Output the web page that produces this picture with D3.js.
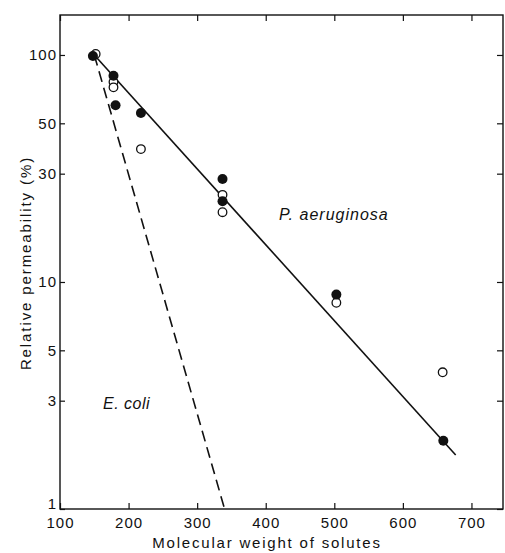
<!DOCTYPE html>
<html>
<head>
<meta charset="utf-8">
<script src="https://cdn.jsdelivr.net/npm/d3@7"></script>
<style>
  body { margin: 0; background: #fff; }
  text { font-family: "Liberation Sans", Arial, sans-serif; fill: #111; }
</style>
</head>
<body>
<svg id="chart" width="505" height="553"></svg>
<script>
// Relative permeability vs molecular weight of solutes
const xTicks = [100, 200, 300, 400, 500, 600, 700];
const yTicks = [1, 3, 5, 10, 30, 50, 100];

// P. aeruginosa, filled circles (molecular weight, % permeability)
const filledMW = [148, 178, 181, 218, 337, 337, 503, 659];
const filledPerm = [99, 81, 60, 55.5, 28.4, 22.7, 8.8, 2.0];

// open circles
const openMW = [152, 178, 178, 218, 337, 337, 503, 658];
const openPerm = [101, 76, 72, 38.5, 24.2, 20.3, 8.1, 4.0];

// fitted lines
const aeruginosaFit = [[150, 100], [677, 1.73]];
const coliFit = [[150, 100], [340, 1]];

const svg = d3.select("#chart");
const plotLeft = 60, plotTop = 15, plotRight = 503, plotBottom = 509;

const x = d3.scaleLinear().domain([100, 746]).range([plotLeft, plotRight]);
const y = d3.scaleLog().domain([1, 150]).range([plotBottom, plotTop]);

// frame
svg.append("rect")
  .attr("x", plotLeft)
  .attr("y", plotTop)
  .attr("width", plotRight - plotLeft)
  .attr("height", plotBottom - plotTop)
  .attr("fill", "none")
  .attr("stroke", "#111")
  .attr("stroke-width", 1.4);

// axes, ticks pointing inward
const fmt = d => d3.format("d")(d);
svg.append("g")
  .attr("transform", `translate(0,${plotBottom})`)
  .call(d3.axisBottom(x).tickValues(xTicks).tickSizeInner(-6).tickSizeOuter(0).tickPadding(8).tickFormat(fmt))
  .call(g => g.select(".domain").remove());

svg.append("g")
  .attr("transform", `translate(0,${plotTop})`)
  .call(d3.axisTop(x).tickValues(xTicks).tickSizeInner(-6).tickSizeOuter(0).tickFormat(""))
  .call(g => g.select(".domain").remove());

const yAxisLeft = svg.append("g")
  .attr("transform", `translate(${plotLeft},0)`)
  .call(d3.axisLeft(y).tickValues(yTicks).tickSizeInner(-5).tickSizeOuter(0).tickPadding(3).tickFormat(fmt))
  .call(g => g.select(".domain").remove());

// the "1" label sits a little above its tick, clear of the x labels
yAxisLeft.selectAll(".tick text").filter(d => d === 1).attr("y", -5);

svg.append("g")
  .attr("transform", `translate(${plotRight},0)`)
  .call(d3.axisRight(y).tickValues(yTicks).tickSizeInner(-6).tickSizeOuter(0).tickFormat(""))
  .call(g => g.select(".domain").remove());

svg.selectAll(".tick line").attr("stroke", "#111").attr("stroke-width", 1.2);
svg.selectAll(".tick text")
  .attr("font-size", "15px")
  .style("letter-spacing", "1px")
  .attr("fill", "#111");

// fit lines
const line = d3.line().x(d => x(d[0])).y(d => y(d[1]));

svg.append("path")
  .datum(aeruginosaFit)
  .attr("d", line)
  .attr("fill", "none")
  .attr("stroke", "#111")
  .attr("stroke-width", 1.6);

svg.append("path")
  .datum(coliFit)
  .attr("d", line)
  .attr("fill", "none")
  .attr("stroke", "#111")
  .attr("stroke-width", 1.6)
  .attr("stroke-dasharray", "11,6");

// open circles first, filled on top
svg.append("g").selectAll("circle")
  .data(openMW.map((m, i) => [m, openPerm[i]]))
  .join("circle")
  .attr("cx", d => x(d[0]))
  .attr("cy", d => y(d[1]))
  .attr("r", 4.3)
  .attr("fill", "#fff")
  .attr("stroke", "#111")
  .attr("stroke-width", 1.3);

svg.append("g").selectAll("circle")
  .data(filledMW.map((m, i) => [m, filledPerm[i]]))
  .join("circle")
  .attr("cx", d => x(d[0]))
  .attr("cy", d => y(d[1]))
  .attr("r", 5)
  .attr("fill", "#111");

// annotations
svg.append("text")
  .attr("x", 279)
  .attr("y", 220)
  .attr("font-size", "16px")
  .attr("font-style", "italic")
  .style("letter-spacing", "1px")
  .text("P. aeruginosa");

svg.append("text")
  .attr("x", 103)
  .attr("y", 409)
  .attr("font-size", "16px")
  .attr("font-style", "italic")
  .style("letter-spacing", "0.5px")
  .text("E. coli");

// axis titles
svg.append("text")
  .attr("x", 267)
  .attr("y", 548)
  .attr("text-anchor", "middle")
  .attr("font-size", "15px")
  .style("letter-spacing", "1.8px")
  .text("Molecular weight of solutes");

svg.append("text")
  .attr("transform", "translate(31,263) rotate(-90)")
  .attr("text-anchor", "middle")
  .attr("font-size", "15px")
  .style("letter-spacing", "1.9px")
  .text("Relative permeability (%)");
</script>
</body>
</html>
